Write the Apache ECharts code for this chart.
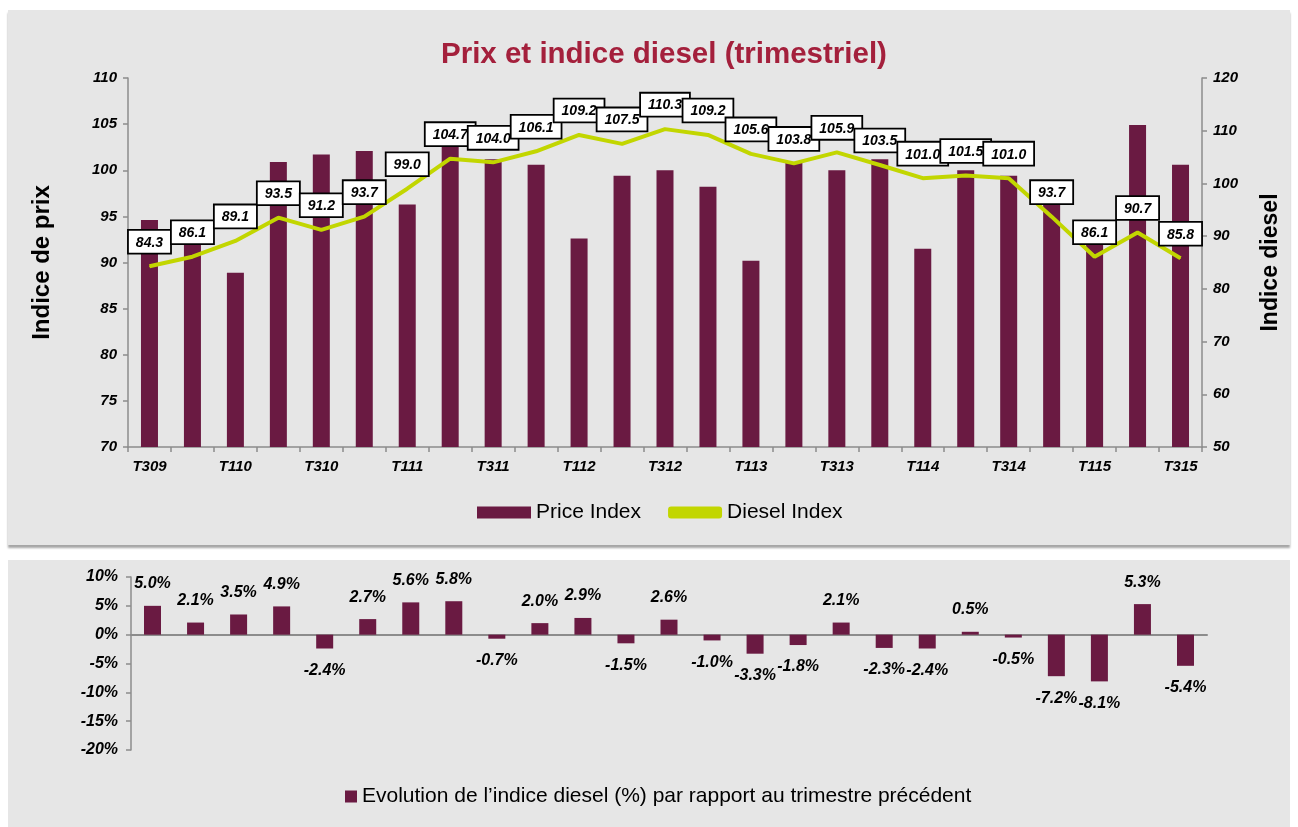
<!DOCTYPE html>
<html>
<head>
<meta charset="utf-8">
<script src="https://cdn.jsdelivr.net/npm/echarts@6/dist/echarts.min.js"></script>
<style>
    html, body { margin: 0; padding: 0; background: #fff; }
    body { width: 1298px; height: 827px; position: relative; overflow: hidden; }
    .panel { position: absolute; left: 8px; width: 1282px; background: #e6e6e6; }
    #top { top: 10px; height: 535px; box-shadow: 0 3px 2px #a6a6a6; }
    #bottom { top: 560px; height: 267px; }
</style>
</head>
<body>
<div id="top" class="panel"></div>
<div id="bottom" class="panel"></div>
<script>
    // trimestres T309 .. T315
    var categories = ['T309', 'T409', 'T110', 'T210', 'T310', 'T410', 'T111', 'T211', 'T311', 'T411',
        'T112', 'T212', 'T312', 'T412', 'T113', 'T213', 'T313', 'T413', 'T114', 'T214',
        'T314', 'T414', 'T115', 'T215', 'T315'];
    var priceIndex = [94.6, 92.5, 88.9, 100.9, 101.7, 102.1, 96.3, 103.2, 101.2, 100.6,
        92.6, 99.4, 100.0, 98.2, 90.2, 100.8, 100.0, 101.2, 91.5, 100.0,
        99.4, 96.9, 92.4, 104.9, 100.6];
    var dieselIndex = [84.3, 86.1, 89.1, 93.5, 91.2, 93.7, 99.0, 104.7, 104.0, 106.1,
        109.2, 107.5, 110.3, 109.2, 105.6, 103.8, 105.9, 103.5, 101.0, 101.5,
        101.0, 93.7, 86.1, 90.7, 85.8];
    var evolution = [5.0, 2.1, 3.5, 4.9, -2.4, 2.7, 5.6, 5.8, -0.7, 2.0,
        2.9, -1.5, 2.6, -1.0, -3.3, -1.8, 2.1, -2.3, -2.4, 0.5,
        -0.5, -7.2, -8.1, 5.3, -5.4];

    var FONT = '"Liberation Sans", Arial, sans-serif';
    var BAR = '#6a1a42';
    var LINE = '#c2d600';
    var AXIS = '#8c8c8c';
    var EVOL_NAME = 'Evolution de l\u2019indice diesel (%) par rapport au trimestre précédent';

    function tickLabel (size) {
        return {
            color: '#000',
            fontFamily: FONT,
            fontStyle: 'italic',
            fontWeight: 'bold',
            fontSize: size
        };
    }

    var topChart = echarts.init(document.getElementById('top'));
    topChart.setOption({
        animation: false,
        textStyle: {fontFamily: FONT},
        title: {
            text: 'Prix et indice diesel (trimestriel)',
            left: 428,
            top: 25,
            textStyle: {color: '#a4203c', fontSize: 29.5, fontWeight: 'bold', fontFamily: FONT}
        },
        legend: {
            top: 487,
            left: 464,
            itemGap: 27,
            textStyle: {fontSize: 21, color: '#000', fontFamily: FONT},
            data: [
                {name: 'Price Index', icon: 'rect', itemWidth: 52, itemHeight: 12},
                {name: 'Diesel Index', icon: 'roundRect', itemWidth: 56, itemHeight: 5}
            ],
            itemWidth: 54,
            itemHeight: 12
        },
        grid: {left: 120, right: 85, top: 68, height: 369},
        xAxis: {
            type: 'category',
            data: categories,
            axisLine: {lineStyle: {color: AXIS, width: 1.5}},
            axisTick: {show: true, interval: 0, length: 5, lineStyle: {color: AXIS, width: 1.5}},
            axisLabel: Object.assign({interval: 1, margin: 12}, tickLabel(15))
        },
        yAxis: [
            {
                type: 'value',
                min: 70, max: 110, interval: 5,
                name: 'Indice de prix',
                nameLocation: 'middle',
                nameGap: 74,
                nameTextStyle: {fontSize: 24, fontWeight: 'bold', color: '#000', fontFamily: FONT},
                splitLine: {show: false},
                axisLine: {show: true, lineStyle: {color: AXIS, width: 1.5}},
                axisTick: {show: true, length: 5, lineStyle: {color: AXIS, width: 1.5}},
                axisLabel: Object.assign({margin: 11}, tickLabel(15))
            },
            {
                type: 'value',
                min: 50, max: 120, interval: 10,
                name: 'Indice diesel',
                nameLocation: 'middle',
                nameGap: 57,
                nameTextStyle: {fontSize: 23, fontWeight: 'bold', color: '#000', fontFamily: FONT},
                splitLine: {show: false},
                axisLine: {show: true, lineStyle: {color: AXIS, width: 1.5}},
                axisTick: {show: true, length: 5, lineStyle: {color: AXIS, width: 1.5}},
                axisLabel: Object.assign({margin: 11}, tickLabel(15))
            }
        ],
        series: [
            {
                name: 'Price Index',
                type: 'bar',
                data: priceIndex,
                barWidth: 17,
                itemStyle: {color: BAR},
                z: 1
            },
            {
                name: 'Diesel Index',
                type: 'line',
                yAxisIndex: 1,
                data: dieselIndex,
                symbol: 'circle',
                symbolSize: 1,
                showSymbol: true,
                showAllSymbol: true,
                lineStyle: {color: LINE, width: 4},
                itemStyle: {color: LINE},
                z: 3,
                label: {
                    show: true,
                    position: 'top',
                    distance: 13,
                    formatter: function (p) { return p.value.toFixed(1); },
                    backgroundColor: '#fff',
                    borderColor: '#000',
                    borderWidth: 1.8,
                    padding: [5, 7, 3, 7],
                    color: '#000',
                    fontFamily: FONT,
                    fontStyle: 'italic',
                    fontWeight: 'bold',
                    fontSize: 14
                },
                labelLayout: {hideOverlap: false}
            }
        ]
    });

    var bottomChart = echarts.init(document.getElementById('bottom'));
    bottomChart.setOption({
        animation: false,
        textStyle: {fontFamily: FONT},
        legend: {
            top: 221,
            left: 332,
            itemWidth: 12,
            itemHeight: 12,
            itemGap: 4,
            textStyle: {fontSize: 21, color: '#000', fontFamily: FONT},
            data: [{name: EVOL_NAME, icon: 'rect'}]
        },
        grid: {left: 123, right: 83, top: 17, height: 173},
        xAxis: {
            type: 'category',
            data: categories,
            axisLine: {onZero: true, lineStyle: {color: AXIS, width: 2}},
            axisTick: {show: false},
            axisLabel: {show: false}
        },
        yAxis: {
            type: 'value',
            min: -20, max: 10, interval: 5,
            splitLine: {show: false},
            axisLine: {show: true, lineStyle: {color: AXIS, width: 1.5}},
            axisTick: {show: true, length: 5, lineStyle: {color: AXIS, width: 1.5}},
            axisLabel: Object.assign({margin: 13, formatter: '{value}%'}, tickLabel(16))
        },
        series: [
            {
                name: EVOL_NAME,
                type: 'bar',
                data: evolution.map(function (v) {
                    return {value: v, label: {position: v >= 0 ? 'top' : 'bottom'}};
                }),
                barWidth: 17,
                itemStyle: {color: BAR},
                label: {
                    show: true,
                    distance: 14,
                    formatter: function (p) { return p.value.toFixed(1) + '%'; },
                    color: '#000',
                    fontFamily: FONT,
                    fontStyle: 'italic',
                    fontWeight: 'bold',
                    fontSize: 16
                }
            }
        ]
    });
</script>
</body>
</html>
